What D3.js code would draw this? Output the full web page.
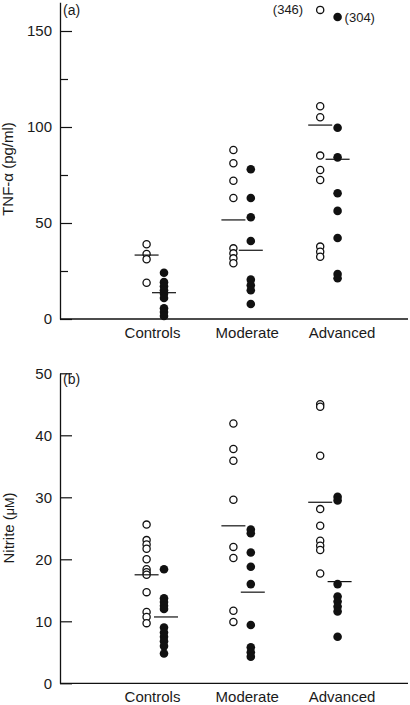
<!DOCTYPE html>
<html><head><meta charset="utf-8">
<script src="https://cdn.jsdelivr.net/npm/d3@7"></script>
<style>
html,body{margin:0;padding:0;background:#fff;}
svg text{font-family:"Liberation Sans",Arial,Helvetica,sans-serif;fill:#1a1a1a;}
</style></head>
<body><svg id="c" width="410" height="705"></svg>
<script>
// ---------- data ----------
const categories = ["Controls", "Moderate", "Advanced"];

// Panel (a): TNF-alpha (pg/ml)
const tnfOpen = [
  [38.9, 33.9, 31.1, 18.9],
  [88, 81.1, 72, 63, 36.8, 34.2, 31.6, 29.0],
  [346, 110.8, 105.1, 85.1, 77.6, 72.4, 37.7, 35.0, 32.4]
];
const tnfFilled = [
  [24.1, 19.2, 17.0, 15.0, 13.2, 10.9, 5.6, 3.6, 1.6],
  [78, 63, 53, 40.6, 20.5, 17.6, 15.0, 7.8],
  [304, 99.6, 84.2, 65.5, 56.3, 42.2, 23.4, 21.2]
];
const tnfOpenMean = [33.3, 51.6, 101];
const tnfFilledMean = [13.7, 35.8, 83.2];
// off-scale values and the value at which they are drawn (axis break)
const tnfOffScaleValues = [346, 304];
const tnfOffScaleShownAt = [161, 157.3];
const tnfMajorTicks = [0, 50, 100, 150];
const tnfMinorTicks = [25, 75, 125];

// Panel (b): Nitrite (uM)
const nitOpen = [
  [25.6, 23.1, 22.4, 21.7, 20.0, 18.4, 17.9, 17.5, 14.7, 11.5, 10.7, 9.7],
  [41.9, 37.8, 35.9, 29.6, 22.0, 20.2, 11.7, 9.9],
  [45.0, 44.6, 36.7, 28.1, 25.4, 23.0, 22.2, 21.5, 17.7]
];
const nitFilled = [
  [18.4, 13.7, 13.1, 12.5, 12.0, 9.0, 8.2, 7.5, 6.8, 6.0, 4.8],
  [24.8, 24.2, 21.1, 18.8, 16.0, 9.4, 5.8, 5.0, 4.3],
  [30.1, 29.5, 16.0, 14.0, 13.2, 12.4, 11.6, 7.5]
];
const nitOpenMean = [17.5, 25.4, 29.2];
const nitFilledMean = [10.7, 14.7, 16.4];
const nitMajorTicks = [0, 10, 20, 30, 40, 50];

// ---------- drawing ----------
const svg = d3.select("#c");
const axisX0 = 60, axisX1 = 408;
const xGroup = d3.scalePoint().domain(categories).range([155.3, 328.9]);
const xLabel = d3.scalePoint().domain(categories).range([152, 341.5]);
const pairOff = 8.7, meanHalf = 12;

function panel(cfg) {
  const g = svg.append("g");
  const y = d3.scaleLinear().domain(cfg.domain).range(cfg.range);

  // y axis with major ticks pointing inward
  const ya = g.append("g").attr("transform", `translate(${axisX0},0)`)
    .call(d3.axisLeft(y).tickValues(cfg.major).tickSizeInner(-12).tickSizeOuter(0).tickPadding(9));
  ya.select(".domain").attr("stroke", "#111").attr("stroke-width", 1.3);
  ya.selectAll(".tick line").attr("stroke", "#111").attr("stroke-width", 1.2);
  ya.selectAll(".tick text").attr("font-size", 15).attr("x", -8)
    .style("font-family", "Liberation Sans, Arial, sans-serif");
  if (cfg.minor) {
    const ym = g.append("g").attr("transform", `translate(${axisX0},0)`)
      .call(d3.axisLeft(y).tickValues(cfg.minor).tickSizeInner(-8).tickSizeOuter(0).tickFormat(""));
    ym.select(".domain").remove();
    ym.selectAll(".tick line").attr("stroke", "#111").attr("stroke-width", 1.2);
  }

  // x axis baseline
  g.append("line").attr("x1", axisX0).attr("x2", axisX1)
    .attr("y1", y(0)).attr("y2", y(0)).attr("stroke", "#111").attr("stroke-width", 1.3);
  const xa = g.append("g").attr("transform", `translate(0,${y(0)})`)
    .call(d3.axisBottom(xLabel).tickSize(0).tickPadding(8));
  xa.select(".domain").remove();
  xa.selectAll(".tick text").attr("font-size", 15)
    .style("font-family", "Liberation Sans, Arial, sans-serif");

  // panel letter
  g.append("text").attr("x", axisX0 + 3).attr("y", cfg.range[1] + cfg.letterDy)
    .attr("font-size", 14).text(cfg.letter);

  // y title
  const t = g.append("text")
    .attr("transform", `translate(${cfg.titleX},${cfg.titleY}) rotate(-90)`)
    .attr("text-anchor", "middle").attr("font-size", 15);
  cfg.title(t);

  const plotY = v => {
    if (cfg.offVals) {
      const i = cfg.offVals.indexOf(v);
      if (i >= 0) return y(cfg.offShown[i]);
    }
    return y(v);
  };

  categories.forEach((c, ci) => {
    const cx = xGroup(c);
    // open circles
    g.append("g").selectAll("circle").data(cfg.open[ci]).join("circle")
      .attr("cx", cx - pairOff).attr("cy", d => plotY(d)).attr("r", 3.6)
      .attr("fill", "#fff").attr("stroke", "#111").attr("stroke-width", 1.3);
    // filled circles
    g.append("g").selectAll("circle").data(cfg.filled[ci]).join("circle")
      .attr("cx", cx + pairOff).attr("cy", d => plotY(d)).attr("r", 4.3)
      .attr("fill", "#111");
    // mean lines
    g.append("line").attr("x1", cx - pairOff - meanHalf).attr("x2", cx - pairOff + meanHalf)
      .attr("y1", y(cfg.openMean[ci])).attr("y2", y(cfg.openMean[ci]))
      .attr("stroke", "#111").attr("stroke-width", 1.2);
    g.append("line").attr("x1", cx + pairOff - meanHalf + cfg.fMeanShift).attr("x2", cx + pairOff + meanHalf + cfg.fMeanShift)
      .attr("y1", y(cfg.filledMean[ci])).attr("y2", y(cfg.filledMean[ci]))
      .attr("stroke", "#111").attr("stroke-width", 1.2);
  });

  // labels of off-scale values
  if (cfg.offVals) {
    const adv = categories[2];
    g.append("text").attr("x", xGroup(adv) - pairOff - 17).attr("y", y(cfg.offShown[0]))
      .attr("dy", "0.35em").attr("text-anchor", "end").attr("font-size", 13)
      .text(`(${cfg.offVals[0]})`);
    g.append("text").attr("x", xGroup(adv) + pairOff + 7).attr("y", y(cfg.offShown[1]))
      .attr("dy", "0.35em").attr("text-anchor", "start").attr("font-size", 13)
      .text(`(${cfg.offVals[1]})`);
  }
}

panel({
  domain: [0, 165], range: [319, 2.2],
  major: tnfMajorTicks, minor: tnfMinorTicks,
  open: tnfOpen, filled: tnfFilled, openMean: tnfOpenMean, filledMean: tnfFilledMean,
  offVals: tnfOffScaleValues, offShown: tnfOffScaleShownAt,
  letter: "(a)", letterDy: 13, fMeanShift: 0,
  titleX: 13, titleY: 169,
  title: t => t.text("TNF-α (pg/ml)")
});

panel({
  domain: [0, 50], range: [683.3, 373.3],
  major: nitMajorTicks, minor: null,
  open: nitOpen, filled: nitFilled, openMean: nitOpenMean, filledMean: nitFilledMean,
  offVals: null, offShown: null,
  letter: "(b)", letterDy: 11, fMeanShift: 2,
  titleX: 14, titleY: 528,
  title: t => { t.append("tspan").text("Nitrite ("); t.append("tspan").attr("font-size", 12.5).text("μM"); t.append("tspan").text(")"); }
});
</script></body></html>
